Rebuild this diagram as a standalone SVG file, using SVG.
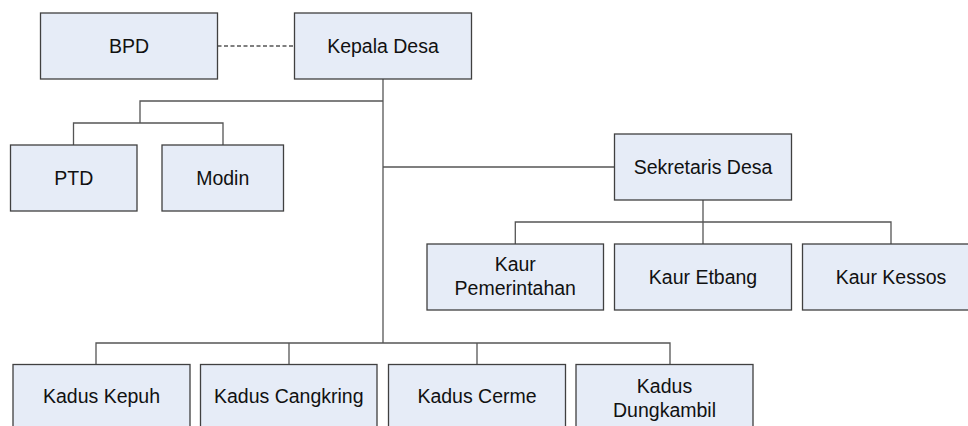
<svg xmlns="http://www.w3.org/2000/svg" width="968" height="426" viewBox="0 0 968 426">
<style>
.box{fill:#e6ecf7;stroke:#404040;stroke-width:1.3}
.lbl{font-family:"Liberation Sans",Arial,sans-serif;font-size:19.5px;fill:#111;text-anchor:middle}
.con{fill:none;stroke:#555;stroke-width:1.3}
.dash{stroke-dasharray:4 2.5}
</style>
<rect width="968" height="426" fill="#fff"/>
<g id="connectors">
<path class="con dash" d="M217.5 46H294.5"/>
<path class="con" d="M383 79V343"/>
<path class="con" d="M383 101H140V123"/>
<path class="con" d="M73.5 145V123H223V145"/>
<path class="con" d="M383 167H614.5"/>
<path class="con" d="M703 200V244"/>
<path class="con" d="M515.3 244V222H891V244"/>
<path class="con" d="M96 364.5V343H670V364.5"/>
<path class="con" d="M289 343V364.5"/>
<path class="con" d="M477 343V364.5"/>
</g>
<g id="bpd"><rect class="box" x="40.5" y="13" width="177" height="66"/><text class="lbl" x="129" y="53">BPD</text></g>
<g id="kepala-desa"><rect class="box" x="294.5" y="13" width="177" height="66"/><text class="lbl" x="383" y="53">Kepala Desa</text></g>
<g id="ptd"><rect class="box" x="10.5" y="145" width="126.5" height="66"/><text class="lbl" x="73.75" y="185">PTD</text></g>
<g id="modin"><rect class="box" x="162" y="145" width="121.5" height="66"/><text class="lbl" x="222.75" y="185">Modin</text></g>
<g id="sekretaris-desa"><rect class="box" x="614.5" y="134" width="177" height="66"/><text class="lbl" x="703" y="174">Sekretaris Desa</text></g>
<g id="kaur-pemerintahan"><rect class="box" x="427" y="244" width="176.5" height="66"/><text class="lbl" x="515.25" y="271.3">Kaur</text><text class="lbl" x="515.25" y="295">Pemerintahan</text></g>
<g id="kaur-etbang"><rect class="box" x="614.5" y="244" width="177" height="66"/><text class="lbl" x="703" y="284">Kaur Etbang</text></g>
<g id="kaur-kessos"><rect class="box" x="802.5" y="244" width="177" height="66"/><text class="lbl" x="891" y="284">Kaur Kessos</text></g>
<g id="kadus-kepuh"><rect class="box" x="13" y="364.5" width="177" height="66"/><text class="lbl" x="101.5" y="403.3">Kadus Kepuh</text></g>
<g id="kadus-cangkring"><rect class="box" x="200.5" y="364.5" width="176.5" height="66"/><text class="lbl" x="288.75" y="403.3">Kadus Cangkring</text></g>
<g id="kadus-cerme"><rect class="box" x="388.5" y="364.5" width="177" height="66"/><text class="lbl" x="477" y="403.3">Kadus Cerme</text></g>
<g id="kadus-dungkambil"><rect class="box" x="576" y="364.5" width="177" height="66"/><text class="lbl" x="664.5" y="393.3">Kadus</text><text class="lbl" x="664.5" y="416.7">Dungkambil</text></g>
</svg>
